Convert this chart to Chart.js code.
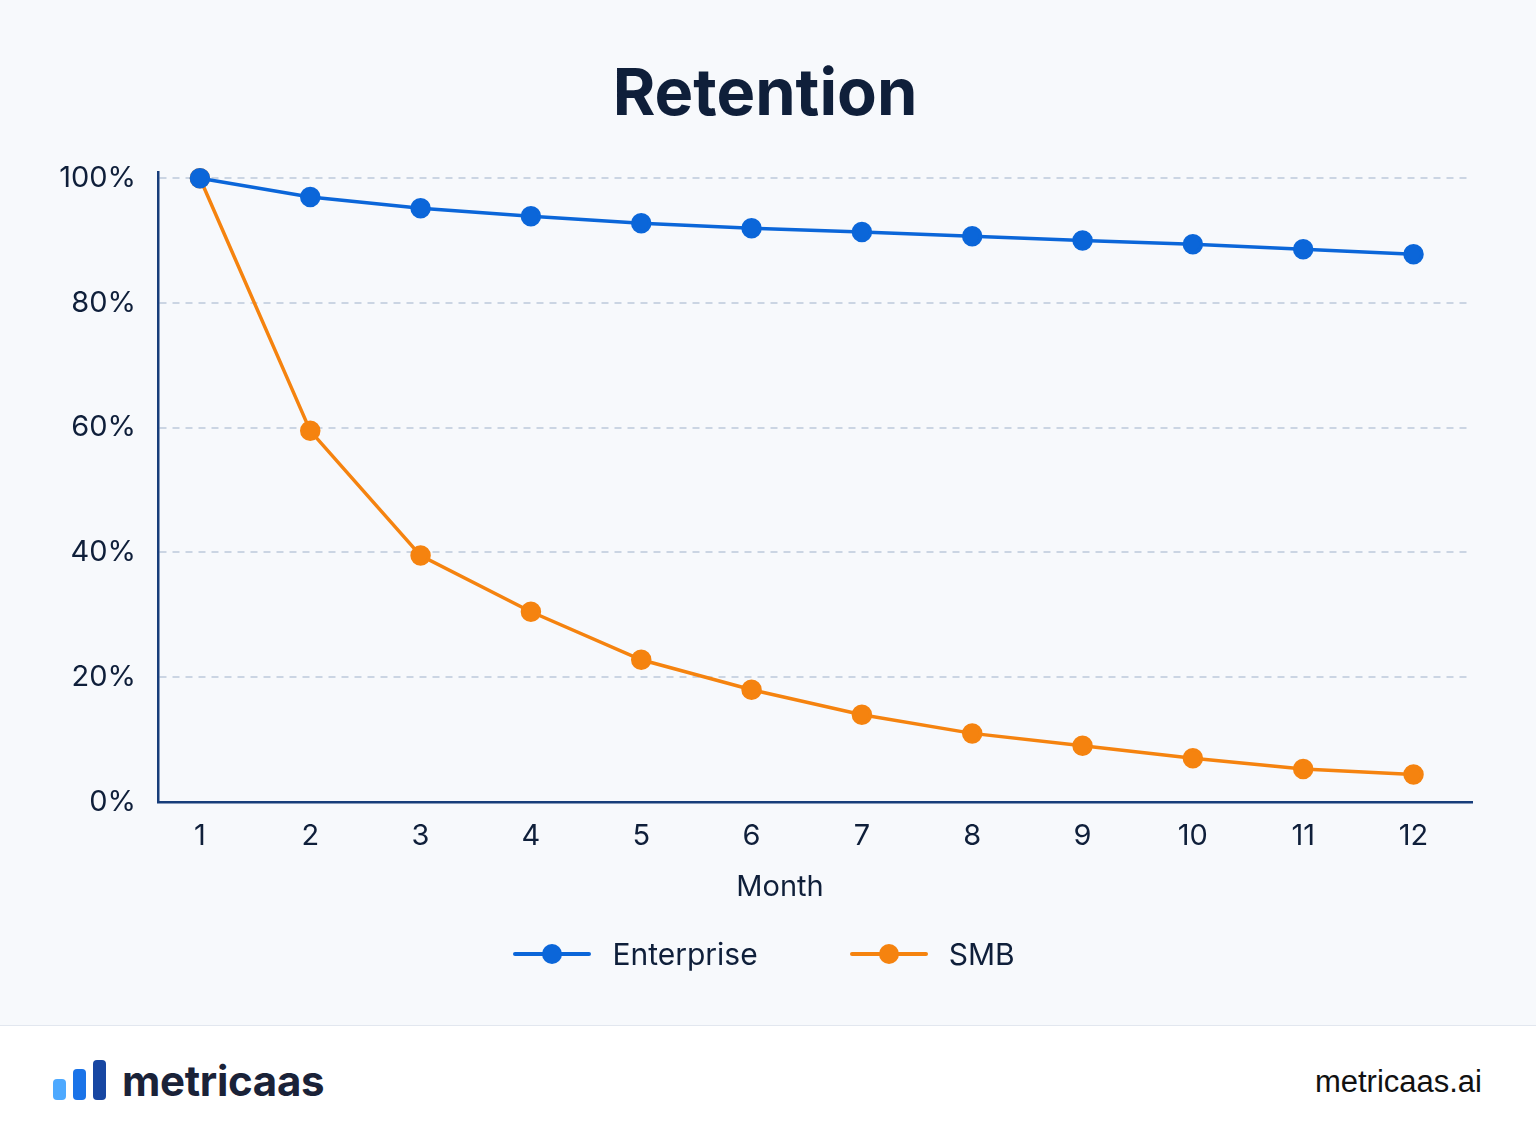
<!DOCTYPE html>
<html>
<head>
<meta charset="utf-8">
<script src="https://cdn.jsdelivr.net/npm/chart.js@4.4.1/dist/chart.umd.min.js"></script>
<style>
  html, body { margin: 0; padding: 0; }
  body { width: 1536px; height: 1136px; background: #f7f9fc; font-family: Inter, "Noto Sans", sans-serif; position: relative; overflow: hidden; }
  #wrap { position: absolute; left: 0; top: 0; width: 1536px; height: 1025px; }
  #title { position: absolute; top: 52px; left: 0; width: 1530px; text-align: center; font-size: 65px; font-weight: 700; color: #0f1f3a; line-height: 80px; }
  #xtitle { position: absolute; top: 866px; left: 680px; width: 200px; text-align: center; font-size: 29px; color: #0f1f3a; line-height: 40px; }
  #legend { position: absolute; top: 932px; left: 0; width: 1528px; display: flex; justify-content: center; align-items: center; }
  .item { display: flex; align-items: center; margin: 0 46px; }
  .mark { position: relative; width: 78px; height: 20px; margin-right: 21px; }
  .mark .ln { position: absolute; left: 0; top: 8px; width: 78px; height: 4px; border-radius: 2px; }
  .mark .dot { position: absolute; left: 29px; top: 0; width: 20px; height: 20px; border-radius: 50%; }
  .item span { font-size: 30px; color: #0f1f3a; line-height: 44px; }
  #footer { position: absolute; left: 0; top: 1025px; width: 1536px; height: 111px; background: #ffffff; border-top: 1.5px solid #e2e7ef; }
  .bar { position: absolute; width: 13px; border-radius: 4px; }
  #brand { position: absolute; left: 122px; top: 30px; font-size: 42px; font-weight: 700; color: #1a2238; letter-spacing: -0.3px; line-height: 50px; }
  #site { position: absolute; right: 54px; top: 38px; font-family: "Liberation Sans", Arial, sans-serif; font-size: 31px; color: #111; }
</style>
</head>
<body>
<div id="wrap"><canvas id="chart" width="1536" height="1025"></canvas></div>
<div id="title">Retention</div>
<div id="xtitle">Month</div>
<div id="legend"></div>
<div id="footer">
  <div class="bar" style="left:53px; top:53px; height:21px; background:#4da9ff;"></div>
  <div class="bar" style="left:73px; top:43px; height:31px; background:#1a73e8;"></div>
  <div class="bar" style="left:93px; top:34px; height:40px; background:#1746a2;"></div>
  <div id="brand">metricaas</div>
  <div id="site">metricaas.ai</div>
</div>
<script>
const months = [1, 2, 3, 4, 5, 6, 7, 8, 9, 10, 11, 12];
const enterprise = [100, 97, 95.2, 93.9, 92.8, 92, 91.4, 90.7, 90, 89.4, 88.6, 87.8];
const smb = [100, 59.5, 39.5, 30.5, 22.8, 18, 14, 11, 9, 7, 5.3, 4.4];
const yTicks = [0, 20, 40, 60, 80, 100];
const seriesNames = ['Enterprise', 'SMB'];
const seriesColors = ['#0b66d9', '#f5830f'];

const textColor = '#0f1f3a';
const axisColor = '#173d7a';
const gridColor = '#cbd5e3';

function toPoints(values) {
    return months.map((m, i) => ({ x: m, y: values[i] }));
}

const datasets = [enterprise, smb].map((vals, i) => ({
    label: seriesNames[i],
    data: toPoints(vals),
    borderColor: seriesColors[i],
    backgroundColor: seriesColors[i],
    pointBackgroundColor: seriesColors[i],
    pointBorderColor: seriesColors[i],
    borderWidth: 3.5,
    pointRadius: 8.5,
    pointHoverRadius: 8.5,
    tension: 0,
    clip: false
}));

const ctx = document.getElementById('chart').getContext('2d');
new Chart(ctx, {
    type: 'line',
    data: { datasets: datasets },
    options: {
        responsive: false,
        animation: false,
        layout: { padding: { left: 0, right: 64, top: 172, bottom: 113 } },
        plugins: {
            legend: { display: false },
            title: { display: false },
            tooltip: { enabled: false }
        },
        scales: {
            x: {
                type: 'linear',
                min: 0.62,
                max: 12.53,
                afterBuildTicks: (scale) => { scale.ticks = months.map(v => ({ value: v })); },
                afterFit: (scale) => { scale.height = 110; },
                grid: { display: false, drawTicks: false },
                border: { display: true, color: axisColor, width: 2.5 },
                ticks: {
                    color: textColor,
                    font: { family: 'Inter', size: 29 },
                    padding: 17,
                    autoSkip: false,
                    maxRotation: 0
                }
            },
            y: {
                min: 0,
                max: 101,
                afterBuildTicks: (scale) => { scale.ticks = yTicks.map(v => ({ value: v })); },
                afterFit: (scale) => { scale.width = 158; },
                grid: {
                    color: (c) => c.tick && c.tick.value === 0 ? 'rgba(0,0,0,0)' : gridColor,
                    lineWidth: 2,
                    drawTicks: false
                },
                border: { display: true, color: axisColor, width: 2.5, dash: [7, 6] },
                ticks: {
                    color: textColor,
                    font: { family: 'Inter', size: 29 },
                    padding: 22,
                    callback: (v) => v + '%'
                }
            }
        }
    }
});

const legend = document.getElementById('legend');
seriesNames.forEach((name, i) => {
    const item = document.createElement('div');
    item.className = 'item';
    item.innerHTML = '<div class="mark"><div class="ln" style="background:' + seriesColors[i] + '"></div>' +
        '<div class="dot" style="background:' + seriesColors[i] + '"></div></div><span>' + name + '</span>';
    legend.appendChild(item);
});
</script>
</body>
</html>
